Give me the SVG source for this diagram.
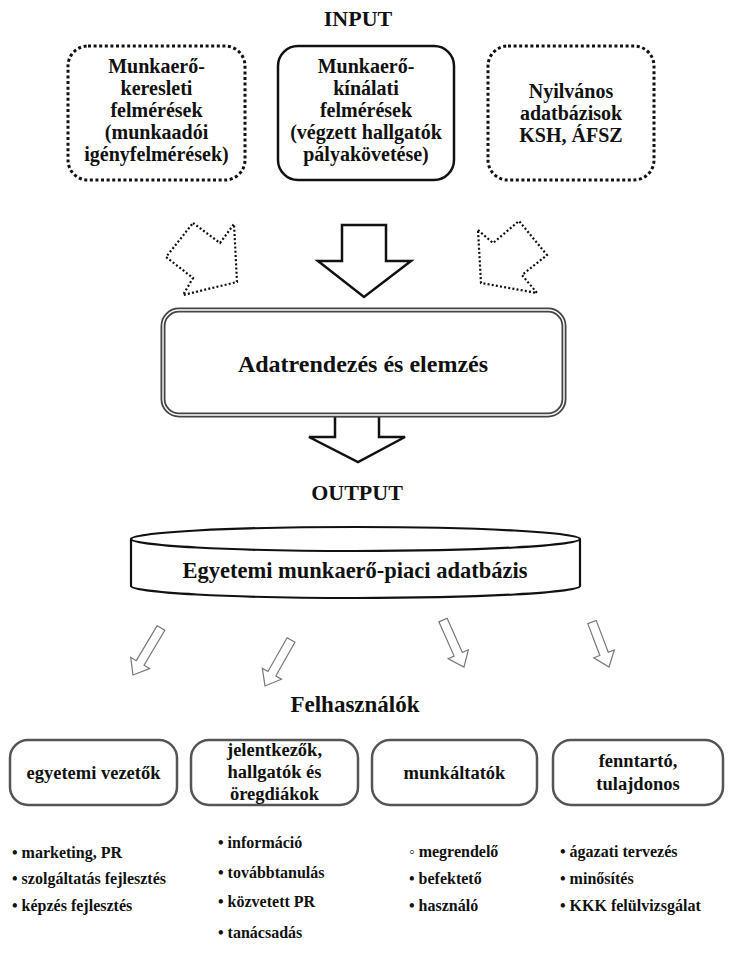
<svg xmlns="http://www.w3.org/2000/svg" width="729" height="964" viewBox="0 0 729 964">
<defs>
<style>
.t{font-family:"Liberation Serif","Times New Roman",serif;font-weight:bold;fill:#111;text-anchor:middle}
.box{font-size:20px}
.dot{fill:#fff;stroke:#111;stroke-width:3;stroke-dasharray:3 2.6}
.solid{fill:#fff;stroke:#111;stroke-width:2.5}
.darr{fill:none;stroke:#111;stroke-width:2.2;stroke-dasharray:2 2.2}
.barr{fill:#fff;stroke:#111;stroke-width:2.5;stroke-linejoin:miter}
.sarr{fill:#fff;stroke:#777;stroke-width:1.2}
.ubox{fill:#fff;stroke:#555;stroke-width:2.5}
.ut{font-size:18.5px}
.bl{font-family:"Liberation Serif","Times New Roman",serif;font-weight:bold;font-size:16px;fill:#111}
</style>
</defs>
<rect width="729" height="964" fill="#fff"/>

<text class="t" x="358" y="26" font-size="22">INPUT</text>

<g id="n-kereslet">
<rect class="dot" x="68" y="46" width="177" height="134" rx="20"/>
<text class="t box"><tspan x="156.5" y="73">Munkaerő-</tspan><tspan x="156.5" y="95">keresleti</tspan><tspan x="156.5" y="117">felmérések</tspan><tspan x="156.5" y="139">(munkaadói</tspan><tspan x="156.5" y="161">igényfelmérések)</tspan></text>
</g>
<g id="n-kinalat">
<rect class="solid" x="278" y="46" width="176" height="134" rx="20"/>
<text class="t box"><tspan x="366" y="73">Munkaerő-</tspan><tspan x="366" y="95">kínálati</tspan><tspan x="366" y="117">felmérések</tspan><tspan x="366" y="139">(végzett hallgatók</tspan><tspan x="366" y="161">pályakövetése)</tspan></text>
</g>
<g id="n-nyilvanos">
<rect class="dot" x="488" y="46" width="166" height="134" rx="20"/>
<text class="t box"><tspan x="571" y="98">Nyilvános</tspan><tspan x="571" y="120">adatbázisok</tspan><tspan x="571" y="142">KSH, ÁFSZ</tspan></text>
</g>

<g id="connectors">
<polygon class="darr" points="193,223 220,243 234,224 237,282 183,295 193,278 166,257"/>
<polygon class="darr" points="478,230 493,243 519,221 547,255 522,275 537,293 481,283"/>
<polygon class="barr" points="342,225 386,225 386,261 411,261 364,297 318,261 342,261"/>
<polygon class="barr" points="335,416 379,416 379,437 405,437 358,462 309,437 335,437"/>
<g class="sarr">
<polygon transform="translate(161,628) rotate(30.8)" points="-4.5,0 4.5,0 4.5,40.7 11,40.7 0,54.7 -11,40.7 -4.5,40.7"/>
<polygon transform="translate(291,640) rotate(29.5)" points="-4.5,0 4.5,0 4.5,38.8 11,38.8 0,52.8 -11,38.8 -4.5,38.8"/>
<polygon transform="translate(443,620) rotate(-24)" points="-4.5,0 4.5,0 4.5,37.5 11,37.5 0,51.5 -11,37.5 -4.5,37.5"/>
<polygon transform="translate(592,622) rotate(-20.7)" points="-4.5,0 4.5,0 4.5,34.1 11,34.1 0,48.1 -11,34.1 -4.5,34.1"/>
</g>
</g>

<g id="n-adatrendezes">
<rect x="163" y="310" width="401" height="105" rx="16" fill="#fff" stroke="#444" stroke-width="5"/>
<rect x="163" y="310" width="401" height="105" rx="16" fill="none" stroke="#fff" stroke-width="1.4"/>
<text class="t" x="363" y="372" font-size="24">Adatrendezés és elemzés</text>
</g>

<text class="t" x="357" y="500" font-size="22">OUTPUT</text>

<g id="n-adatbazis">
<path d="M131,539 L131,586 A224.5,12 0 0 0 580,586 L580,539" fill="#fff" stroke="#111" stroke-width="2.2"/>
<ellipse cx="355.5" cy="539" rx="224.5" ry="12" fill="#fff" stroke="#111" stroke-width="2.2"/>
<text class="t" x="355" y="578" font-size="22.5">Egyetemi munkaerő-piaci adatbázis</text>
</g>

<text class="t" x="355" y="712" font-size="23">Felhasználók</text>

<g id="n-vezetok">
<rect class="ubox" x="10" y="740" width="167" height="65" rx="18"/>
<text class="t ut" x="93.5" y="779">egyetemi vezetők</text>
</g>
<g id="n-hallgatok">
<rect class="ubox" x="191" y="740" width="167" height="65" rx="18"/>
<text class="t ut"><tspan x="274.5" y="756">jelentkezők,</tspan><tspan x="274.5" y="778">hallgatók és</tspan><tspan x="274.5" y="800">öregdiákok</tspan></text>
</g>
<g id="n-munkaltatok">
<rect class="ubox" x="372" y="740" width="165" height="65" rx="18"/>
<text class="t ut" x="454.5" y="779">munkáltatók</text>
</g>
<g id="n-fenntarto">
<rect class="ubox" x="553" y="740" width="170" height="65" rx="18"/>
<text class="t ut"><tspan x="638" y="767">fenntartó,</tspan><tspan x="638" y="790">tulajdonos</tspan></text>
</g>

<g id="lists">
<text class="bl"><tspan x="12" y="858">• marketing, PR</tspan><tspan x="12" y="884">• szolgáltatás fejlesztés</tspan><tspan x="12" y="911">• képzés fejlesztés</tspan></text>
<text class="bl"><tspan x="218" y="848">• információ</tspan><tspan x="218" y="878">• továbbtanulás</tspan><tspan x="218" y="907">• közvetett PR</tspan><tspan x="218" y="938">• tanácsadás</tspan></text>
<text class="bl"><tspan x="409" y="857">◦ megrendelő</tspan><tspan x="409" y="884">• befektető</tspan><tspan x="409" y="911">• használó</tspan></text>
<text class="bl"><tspan x="560" y="857">• ágazati tervezés</tspan><tspan x="560" y="884">• minősítés</tspan><tspan x="560" y="911">• KKK felülvizsgálat</tspan></text>
</g>
</svg>
